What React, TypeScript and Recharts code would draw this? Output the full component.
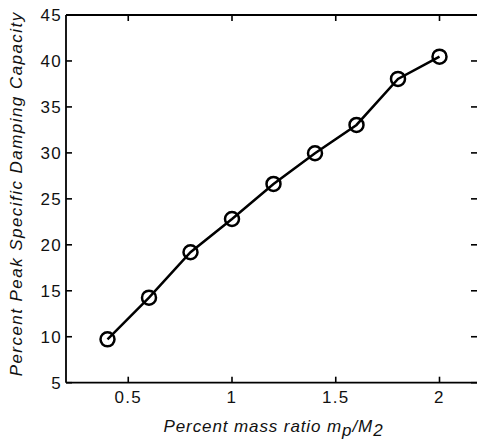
import React from 'react';
import { LineChart, Line, XAxis, YAxis, Label } from 'recharts';

const massRatio = [0.4, 0.6, 0.8, 1.0, 1.2, 1.4, 1.6, 1.8, 2.0];
const dampingCapacity = [9.72, 14.25, 19.19, 22.81, 26.62, 29.96, 33.04, 38.05, 40.47];
const xTicks = [0.5, 1, 1.5, 2];
const yTicks = [5, 10, 15, 20, 25, 30, 35, 40, 45];
const xDomain = [0.2, 2.2];
const yDomain = [5, 45];
const xLabelMain = 'Percent mass ratio m';
const yLabel = 'Percent Peak Specific Damping Capacity';

const data = massRatio.map((x, i) => ({ x, y: dampingCapacity[i] }));

const FONT = '"Liberation Sans", Arial, sans-serif';
const CHART_W = 490;
const CHART_H = 439;
const MARGIN = { top: 15, right: 9, bottom: 0, left: 0 };
const TICK_LEN = 6;
const PLOT_RIGHT = CHART_W - MARGIN.right;

const XTick = (props: any) => {
  const { x, y, payload } = props;
  return (
    <g>
      <text x={x} y={y} dy="0.71em" textAnchor="middle" fontFamily={FONT} fontSize={17} fill="#111" letterSpacing={1.3}>
        {payload.value}
      </text>
      <path d={`M${x},${MARGIN.top} L${x},${MARGIN.top + TICK_LEN}`} stroke="#000" strokeWidth={1.6} fill="none" />
    </g>
  );
};

const YTick = (props: any) => {
  const { x, y, payload } = props;
  return (
    <g>
      <text x={x} y={y} dy="0.355em" textAnchor="end" fontFamily={FONT} fontSize={17} fill="#111" letterSpacing={1.3}>
        {payload.value}
      </text>
      <path d={`M${PLOT_RIGHT - TICK_LEN - 4},${y} L${PLOT_RIGHT},${y}`} stroke="#000" strokeWidth={1.6} fill="none" />
    </g>
  );
};

const XLabel = (props: any) => {
  const vb = props.viewBox || {};
  const cx = vb.x + vb.width / 2;
  const y = vb.y + 49.5;
  const right = vb.x + vb.width;
  return (
    <g>
      <path d={`M${vb.x},${MARGIN.top} L${right},${MARGIN.top} L${right},${vb.y}`} stroke="#000" strokeWidth={2} fill="none" />
      <text x={cx} y={y} textAnchor="middle" fontFamily={FONT} fontSize={17} fontStyle="italic" fill="#111" letterSpacing={0.9}>
        <tspan>{xLabelMain}</tspan>
        <tspan dy={4}>p</tspan>
        <tspan dy={-4}>/M</tspan>
        <tspan dy={4}>2</tspan>
      </text>
    </g>
  );
};

const YLabelComp = (props: any) => {
  const vb = props.viewBox || {};
  const x = 22;
  const cy = vb.y + vb.height / 2 - 5;
  return (
    <text x={x} y={cy} textAnchor="middle" fontFamily={FONT} fontSize={17} fontStyle="italic" fill="#111" letterSpacing={1.45} transform={`rotate(-90, ${x}, ${cy})`}>
      {yLabel}
    </text>
  );
};

export default function App() {
  return (
    <div style={{ position: 'absolute', left: 0, top: 0, width: 477, height: 439, overflow: 'hidden', background: '#fff' }}>
      <LineChart width={CHART_W} height={CHART_H} data={data} margin={MARGIN}>
        <XAxis
          dataKey="x"
          type="number"
          domain={xDomain}
          ticks={xTicks}
          height={56.3}
          tickSize={-6}
          tickMargin={14}
          axisLine={{ stroke: '#000', strokeWidth: 1.8 }}
          tickLine={{ stroke: '#000', strokeWidth: 1.6 }}
          tick={<XTick />}
          interval={0}
          allowDataOverflow
        >
          <Label content={XLabel} />
        </XAxis>
        <YAxis
          type="number"
          domain={yDomain}
          ticks={yTicks}
          width={66}
          tickSize={-6}
          tickMargin={10}
          axisLine={{ stroke: '#000', strokeWidth: 1.8 }}
          tickLine={{ stroke: '#000', strokeWidth: 1.6 }}
          tick={<YTick />}
          interval={0}
          allowDataOverflow
        >
          <Label content={YLabelComp} />
        </YAxis>
        <Line
          type="linear"
          dataKey="y"
          stroke="#000"
          strokeWidth={2.5}
          dot={{ r: 7, stroke: '#000', strokeWidth: 2.5, fill: 'none' }}
          isAnimationActive={false}
        />
      </LineChart>
    </div>
  );
}
